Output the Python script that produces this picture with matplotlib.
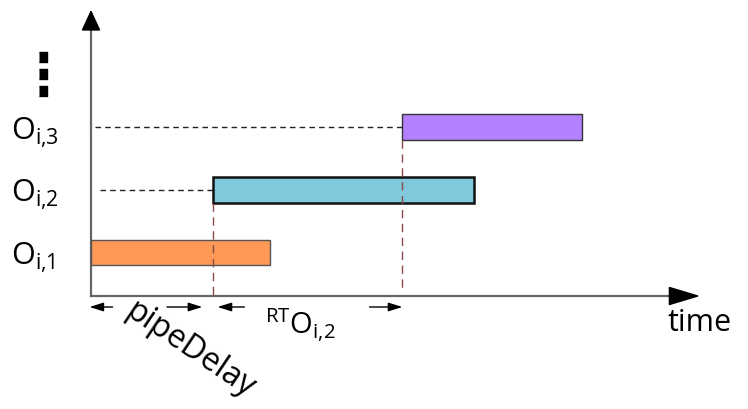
import matplotlib
matplotlib.use('Agg')
import matplotlib.pyplot as plt

plt.rcParams['font.family'] = ['Open Sans', 'DejaVu Sans']

# schedule of the operations (time units, row index)
ops = ['O_{i{,}1}', 'O_{i{,}2}', 'O_{i{,}3}']
rows = [1, 2, 3]
start = [0.0, 2.0, 5.1]
end = [2.93, 6.28, 8.05]
colors = ['#ff9955', '#80c8dc', '#b380ff']
edges = ['#555555', '#111111', '#333333']
edge_w = [1.0, 1.8, 1.0]

pipe_delay = start[1] - start[0]

# pixel <-> data helpers, only used for placing the annotations
def px2t(px):
    return (px - 91) / 61.0

def py2r(py):
    return 1 + (253.5 - py) / 62.75

fig = plt.figure(figsize=(7.48, 4.10), dpi=100)
ax = fig.add_axes([0, 0, 1, 1])
ax.set_xlim(px2t(0), px2t(748))
ax.set_ylim(py2r(410), py2r(0))
ax.axis('off')

bar_h = 0.41
widths = [e - s for s, e in zip(start, end)]
ax.barh(rows, widths, left=start, height=bar_h, color=colors,
        edgecolor=edges, linewidth=edge_w, zorder=2)

# axes with arrows
r0 = py2r(297)
t_tip = px2t(703)
r_tip = py2r(8)
ax.plot([0, t_tip - 0.3], [r0, r0], color='#666666', lw=1.6, zorder=1)
ax.plot([0, 0], [r0, r_tip - 0.2], color='#666666', lw=1.6, zorder=1)
ax.annotate('', xy=(t_tip, r0), xytext=(t_tip - 0.6, r0),
            arrowprops=dict(arrowstyle='-|>,head_length=1.0,head_width=0.3',
                            mutation_scale=20, color='black', lw=1.2))
ax.annotate('', xy=(0, r_tip), xytext=(0, r_tip - 0.4),
            arrowprops=dict(arrowstyle='-|>,head_length=0.65,head_width=0.3',
                            mutation_scale=20, color='black', lw=1.2))

# dashed guides
ax.plot([px2t(95), start[2]], [rows[2], rows[2]], ls=(0, (4, 3)),
        color='#222222', lw=1.0, zorder=1)
ax.plot([px2t(100), start[1]], [rows[1], rows[1]], ls=(0, (4, 3)),
        color='#222222', lw=1.0, zorder=1)
ax.plot([start[1], start[1]], [rows[1] - bar_h / 2, r0], ls=(0, (6, 4)),
        color='#8a4a4a', lw=1.0, zorder=3)
ax.plot([start[2], start[2]], [rows[2] - bar_h / 2, py2r(292)], ls=(0, (6, 4)),
        color='#8a4a4a', lw=1.0, zorder=3)

# row labels
for r, name in zip(rows, ops):
    ax.text(px2t(11), r - 0.07, r'$\mathregular{%s}$' % name,
            fontsize=22, ha='left', va='center')

# vertical ellipsis
ax.plot([px2t(42.5)] * 3, [py2r(58), py2r(75), py2r(92)], ls='none',
        marker=[(-0.35, -0.5), (0.35, -0.5), (0.35, 0.5), (-0.35, 0.5)],
        markersize=7.5, color='black')

# interval arrows under the time axis
ra = py2r(308)
arr = dict(arrowstyle='-|>,head_length=0.7,head_width=0.22',
           mutation_scale=12, color='black', lw=1.0)
ax.annotate('', xy=(start[0] - 0.07, ra), xytext=(start[0] + 0.4, ra), arrowprops=arr)
ax.annotate('', xy=(pipe_delay - 0.13, ra), xytext=(pipe_delay - 0.8, ra), arrowprops=arr)
ax.annotate('', xy=(start[1] + 0.03, ra), xytext=(start[1] + 0.56, ra), arrowprops=arr)
ax.annotate('', xy=(start[2] + 0.05, ra), xytext=(start[2] - 0.58, ra), arrowprops=arr)

ax.text(px2t(190), py2r(350), 'pipeDelay', fontsize=23, rotation=-34,
        rotation_mode='anchor', ha='center', va='center')
ax.text(px2t(265), py2r(334), r'$\mathregular{^{RT}O_{i{,}2}}$', fontsize=21,
        ha='left', va='baseline')
ax.text(px2t(668), py2r(331), 'time', fontsize=22, ha='left', va='baseline')

fig.savefig('out.png', dpi=100)
